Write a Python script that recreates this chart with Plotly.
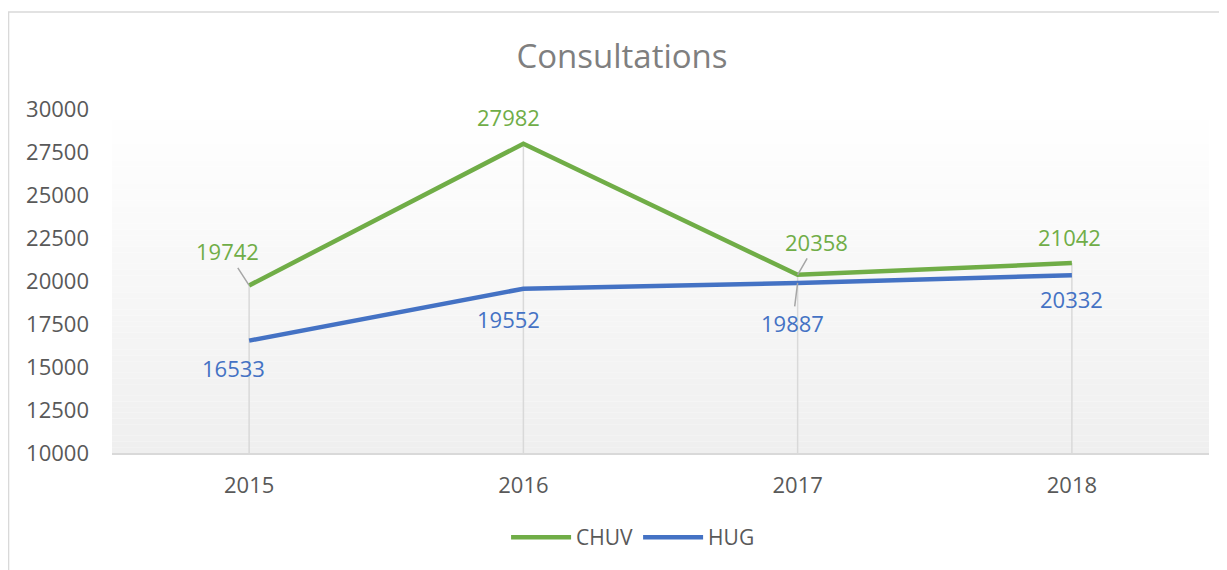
import plotly.graph_objects as go

years = ["2015", "2016", "2017", "2018"]
chuv = [19742, 27982, 20358, 21042]
hug = [16533, 19552, 19887, 20332]
y_ticks = [10000, 12500, 15000, 17500, 20000, 22500, 25000, 27500, 30000]

GREEN = "#70AD47"
BLUE = "#4472C4"
GRAY_TXT = "#595959"
LINE_GRAY = "#d9d9d9"
FONT = "Open Sans"

W, H = 1219, 562  # page body has an 8px margin

fig = go.Figure()

# drop lines from the highest point of each category to the axis
dx, dy = [], []
for i, yr in enumerate(years):
    dx += [yr, yr, None]
    dy += [y_ticks[0], max(chuv[i], hug[i]), None]
fig.add_trace(go.Scatter(x=dx, y=dy, mode="lines", line=dict(color=LINE_GRAY, width=1.5),
                         showlegend=False, hoverinfo="skip"))

fig.add_trace(go.Scatter(x=years, y=chuv, name="CHUV", mode="lines",
                         line=dict(color=GREEN, width=4.5)))
fig.add_trace(go.Scatter(x=years, y=hug, name="HUG", mode="lines",
                         line=dict(color=BLUE, width=4.5)))

# data labels: (series values, color, per-point offsets (dx, dy, leader))
label_specs = [
    (chuv, GREEN, [(-22, -34, True), (-15, -27, False), (19, -33, True), (-2, -26, False)]),
    (hug, BLUE, [(-16, 27, False), (-15, 30, False), (-5, 40, True), (0, 24, False)]),
]
annotations = []
for vals, col, offs in label_specs:
    for i, (ox, oy, leader) in enumerate(offs):
        if leader:
            annotations.append(dict(x=i, y=vals[i], xref="x", yref="y", text=str(vals[i]),
                                    showarrow=True, arrowhead=0, arrowwidth=1.5, arrowcolor="#a6a6a6",
                                    ax=ox, ay=oy, standoff=0,
                                    font=dict(family=FONT, size=22, color=col)))
        else:
            annotations.append(dict(x=i, y=vals[i], xref="x", yref="y", text=str(vals[i]),
                                    showarrow=False, xshift=ox, yshift=-oy,
                                    font=dict(family=FONT, size=22, color=col)))

# gradient plot background (white -> light gray)
shapes = []
n = 60
for k in range(n):
    t = (k + 0.5) / n
    c = int(round(255 - 16 * t))
    shapes.append(dict(type="rect", xref="x domain", yref="y domain",
                       x0=0, x1=1, y0=1 - (k + 1) / n, y1=1 - k / n,
                       fillcolor=f"rgb({c},{c},{c})", line=dict(width=0), layer="below"))
# chart border
shapes.append(dict(type="rect", xref="paper", yref="paper", x0=-0.0943, x1=1.1, y0=-0.5, y1=1.2818,
                   line=dict(color=LINE_GRAY, width=1.5), fillcolor="rgba(0,0,0,0)", layer="below"))

fig.update_layout(
    width=W, height=H,
    margin=dict(l=104, r=18, t=101, b=115),
    paper_bgcolor="white", plot_bgcolor="white",
    title=dict(text="Consultations", x=614 / W, xref="container", xanchor="center",
               y=1 - 48 / H, yref="container", yanchor="middle",
               font=dict(family=FONT, size=33, color="#7f7f7f")),
    font=dict(family=FONT, size=22, color=GRAY_TXT),
    showlegend=True,
    legend=dict(orientation="h", x=0.475, xanchor="center", y=-0.2457, yanchor="middle",
                font=dict(family=FONT, size=21, color=GRAY_TXT), itemwidth=60),
    shapes=shapes,
    annotations=annotations,
)
fig.update_xaxes(type="category", range=[-0.5, 3.5], showgrid=False, showline=True,
                 linecolor=LINE_GRAY, linewidth=1.5, ticks="", zeroline=False,
                 tickfont=dict(family=FONT, size=22, color=GRAY_TXT), ticklabelstandoff=12)
fig.update_yaxes(range=[10000, 30000], tickvals=y_ticks, ticktext=[str(v) for v in y_ticks],
                 showgrid=False, showline=False, zeroline=False, ticks="",
                 tickfont=dict(family=FONT, size=22, color=GRAY_TXT), ticklabelstandoff=22)

fig.write_html("out.html")
